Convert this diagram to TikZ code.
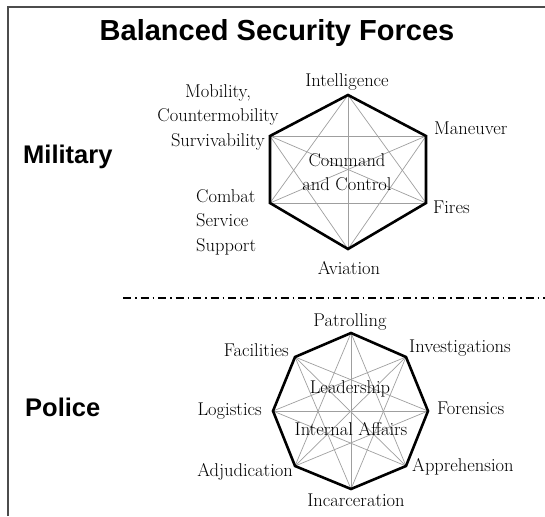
\documentclass[tikz,border=0pt]{standalone}
\usepackage{fontspec}
\setsansfont{Liberation Sans}
\usepackage{tikz}

\begin{document}
\begin{tikzpicture}[x = 1pt, y = -1pt,
                    rim/.style = {line width = 2.6pt, line join = miter, black},
                    spoke/.style = {line width = 0.7pt, gray!75},
                    tag/.style = {inner sep = 0pt, font = \fontsize{18.5}{24.5}\selectfont},
                    heading/.style = {inner sep = 0pt, font = \sffamily\bfseries\fontsize{29}{31}\selectfont},
                    side/.style = {inner sep = 0pt, anchor = west, font = \sffamily\bfseries\fontsize{25.5}{28}\selectfont}]
  \useasboundingbox (0,0) rectangle (545,516);
  \draw [line width = 2pt, black!70] (8,516) -- (8,7) -- (545,7);

  \node [heading, anchor = base] (title) at (277,41) {Balanced Security Forces};
  \node [side] (mil) at (23,157) {Military};
  \node [side] (pol) at (25,407) {Police};

  % military hexagon
  \coordinate (H1) at (348,95);
  \coordinate (H2) at (426,136);
  \coordinate (H3) at (426,203);
  \coordinate (H4) at (348,249);
  \coordinate (H5) at (270,203);
  \coordinate (H6) at (270,136);

  \draw [spoke] (H1) -- (H3);
  \draw [spoke] (H1) -- (H4);
  \draw [spoke] (H1) -- (H5);
  \draw [spoke] (H2) -- (H4);
  \draw [spoke] (H2) -- (H5);
  \draw [spoke] (H2) -- (H6);
  \draw [spoke] (H3) -- (H5);
  \draw [spoke] (H3) -- (H6);
  \draw [spoke] (H4) -- (H6);
  \draw [rim] (H1) -- (H2) -- (H3) -- (H4) -- (H5) -- (H6) -- cycle;

  \node [tag] (intel) at (347,82) {Intelligence};
  \node [tag, anchor = west] (man) at (434,128) {Maneuver};
  \node [tag, anchor = west] (fires) at (433,207) {Fires};
  \node [tag] (avi) at (349,268) {Aviation};
  \node [tag, anchor = west, align = left] (css) at (196,222) {Combat\\Service\\Support};
  \node [tag, align = center] (mob) at (218,117) {Mobility,\\Countermobility\\Survivability};
  \node [tag, align = center] (cc) at (347,172) {Command\\and Control};

  % separator
  \coordinate (cutL) at (123,298);
  \coordinate (cutR) at (545,298);
  \draw [line width = 2pt, dash pattern = on 8pt off 4pt on 1.5pt off 4pt] (cutL) -- (cutR);

  % police octagon
  \coordinate (O1) at (351,333);
  \coordinate (O2) at (406,357);
  \coordinate (O3) at (428,411);
  \coordinate (O4) at (406,466);
  \coordinate (O5) at (351,489);
  \coordinate (O6) at (295,466);
  \coordinate (O7) at (273,411);
  \coordinate (O8) at (295,357);

  \draw [spoke] (O1) -- (O4);
  \draw [spoke] (O1) -- (O6);
  \draw [spoke] (O2) -- (O5);
  \draw [spoke] (O2) -- (O7);
  \draw [spoke] (O3) -- (O6);
  \draw [spoke] (O3) -- (O8);
  \draw [spoke] (O4) -- (O7);
  \draw [spoke] (O5) -- (O8);
  \draw [spoke] (O1) -- (O5);
  \draw [spoke] (O2) -- (O6);
  \draw [spoke] (O3) -- (O7);
  \draw [spoke] (O4) -- (O8);
  \draw [rim] (O1) -- (O2) -- (O3) -- (O4) -- (O5) -- (O6) -- (O7) -- (O8) -- cycle;

  \node [tag] (pat) at (350,322) {Patrolling};
  \node [tag, anchor = west] (inv) at (409,348) {Investigations};
  \node [tag, anchor = east] (fac) at (289,350) {Facilities};
  \node [tag, anchor = east] (log) at (262,411) {Logistics};
  \node [tag, anchor = west] (for) at (437,408) {Forensics};
  \node [tag, anchor = east] (adj) at (293,472) {Adjudication};
  \node [tag, anchor = west] (app) at (412,467) {Apprehension};
  \node [tag] (inc) at (356,500) {Incarceration};
  \node [tag] (lead) at (350,389) {Leadership};
  \node [tag] (ia) at (351,429) {Internal Affairs};
\end{tikzpicture}
\end{document}
